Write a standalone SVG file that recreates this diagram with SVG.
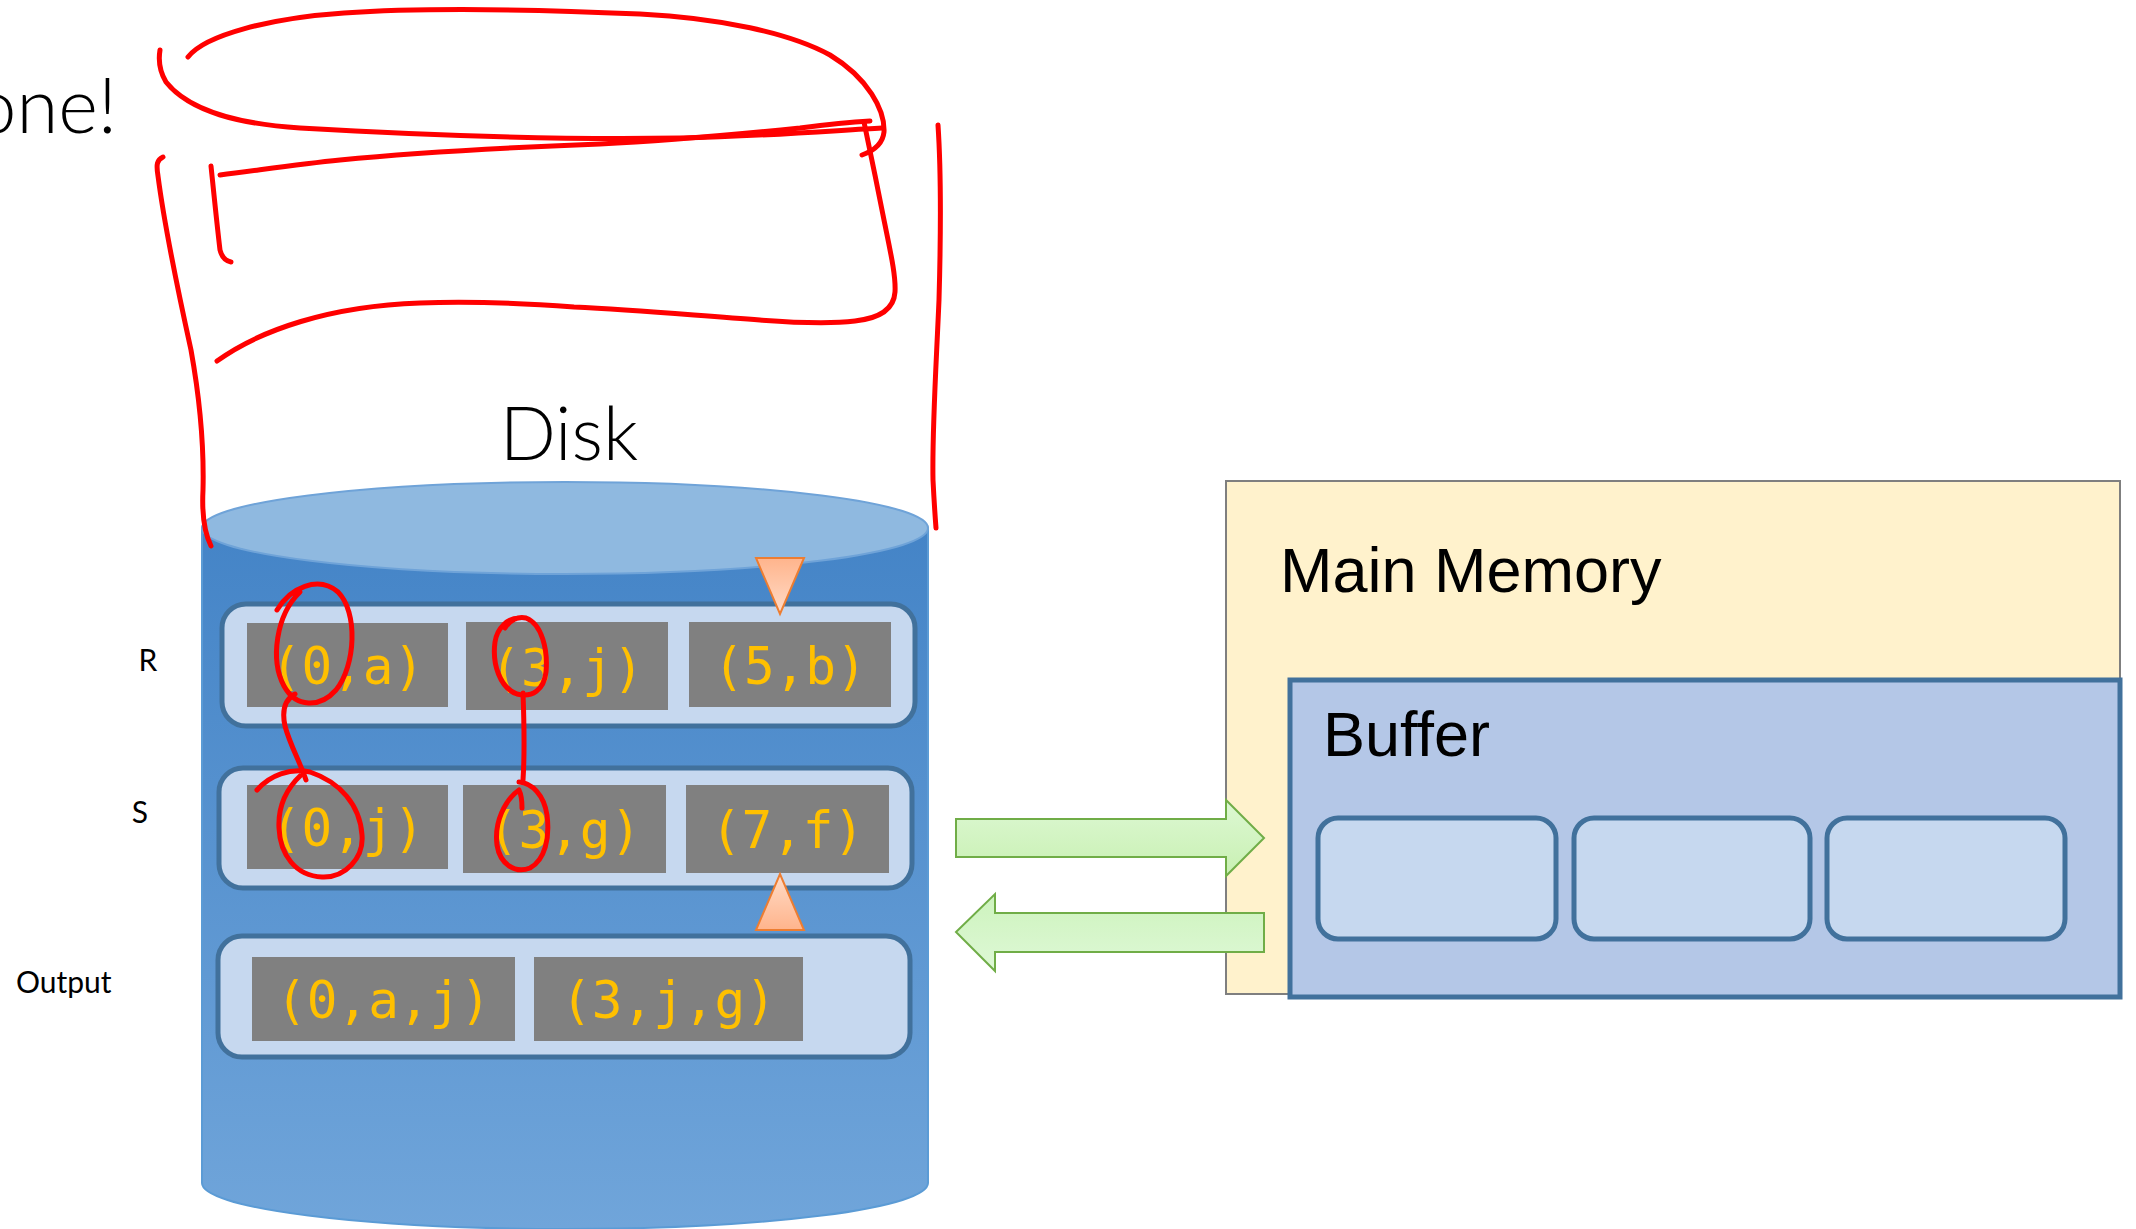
<svg xmlns="http://www.w3.org/2000/svg" width="2136" height="1229" viewBox="0 0 2136 1229">
<defs>
<linearGradient id="cylBody" gradientUnits="userSpaceOnUse" x1="0" y1="528" x2="0" y2="1229">
<stop offset="0" stop-color="#4484c7"/><stop offset="1" stop-color="#70a5da"/>
</linearGradient>
<linearGradient id="tri" x1="0" y1="0" x2="0" y2="1">
<stop offset="0" stop-color="#ffb48c"/><stop offset="1" stop-color="#ffdcc8"/>
</linearGradient>
<linearGradient id="triUp" x1="0" y1="1" x2="0" y2="0">
<stop offset="0" stop-color="#ffb48c"/><stop offset="1" stop-color="#ffdcc8"/>
</linearGradient>
<linearGradient id="grn" x1="0" y1="0" x2="0" y2="1">
<stop offset="0" stop-color="#ddf8d3"/><stop offset="1" stop-color="#c8f0b2"/>
</linearGradient>
<linearGradient id="grn2" x1="0" y1="0" x2="0" y2="1">
<stop offset="0" stop-color="#cdf3bd"/><stop offset="1" stop-color="#def8d6"/>
</linearGradient>
</defs>
<style>
.row{fill:#c6d8ef;stroke:#41719c;stroke-width:5}
.cell{fill:#808080}
.val{font-family:"DejaVu Sans Mono","Liberation Mono",monospace;font-size:51px;fill:#ffc000;text-anchor:middle}
.lbl{font-family:Lato,"Noto Sans",sans-serif;fill:#000}
.big{font-family:"Liberation Sans",Arial,sans-serif;font-size:63px;fill:#000}
.bcell{fill:#c6d8ef;stroke:#41719c;stroke-width:5}
.ink{fill:none;stroke:#ff0000;stroke-width:5;stroke-linecap:round;stroke-linejoin:round}
.tri{stroke:#ed7d31;stroke-width:2}
.arr{stroke:#70ad47;stroke-width:2}
</style>

<text class="lbl" x="-26" y="133" font-size="76" font-weight="300">one!</text>

<g id="disk">
<path d="M202,528 L202,1183 A363,46 0 0 0 928,1183 L928,528 Z" fill="url(#cylBody)" stroke="#5b9bd5" stroke-width="2"/>
<ellipse cx="565" cy="528" rx="363" ry="46" fill="#8fb9e0" stroke="#6fa3d8" stroke-width="2"/>
<text class="lbl" x="569" y="460" font-size="74" font-weight="300" text-anchor="middle">Disk</text>
</g>

<g id="R">
<text class="lbl" x="148" y="671" font-size="30" text-anchor="middle">R</text>
<rect class="row" x="222" y="604" width="693" height="122" rx="24"/>
<rect class="cell" x="247" y="623" width="201" height="84"/>
<rect class="cell" x="466" y="622" width="202" height="88"/>
<rect class="cell" x="689" y="622" width="202" height="85"/>
<text class="val" x="347.5" y="684">(0,a)</text>
<text class="val" x="567" y="686">(3,j)</text>
<text class="val" x="790" y="684">(5,b)</text>
</g>

<g id="S">
<text class="lbl" x="140" y="823" font-size="30" text-anchor="middle">S</text>
<rect class="row" x="219" y="768" width="693" height="120" rx="24"/>
<rect class="cell" x="247" y="785" width="201" height="84"/>
<rect class="cell" x="463" y="785" width="203" height="88"/>
<rect class="cell" x="686" y="785" width="203" height="88"/>
<text class="val" x="347.5" y="846">(0,j)</text>
<text class="val" x="564.5" y="848">(3,g)</text>
<text class="val" x="787.5" y="848">(7,f)</text>
</g>

<g id="Output">
<text class="lbl" x="16" y="993" font-size="30">Output</text>
<rect class="row" x="218" y="936" width="692" height="121" rx="24"/>
<rect class="cell" x="252" y="957" width="263" height="84"/>
<rect class="cell" x="534" y="957" width="269" height="84"/>
<text class="val" x="383.5" y="1018">(0,a,j)</text>
<text class="val" x="668.5" y="1018">(3,j,g)</text>
</g>

<g id="pointers">
<polygon class="tri" points="756,558 804,558 780,614" fill="url(#tri)"/>
<polygon class="tri" points="756,930 804,930 780,874" fill="url(#triUp)"/>
</g>

<g id="main-memory">
<rect x="1226" y="481" width="894" height="513" fill="#fff2cc" stroke="#7f7f7f" stroke-width="2"/>
<text class="big" x="1280" y="592">Main Memory</text>
</g>

<g id="connectors">
<polygon class="arr" points="956,819 1226,819 1226,800 1264,838 1226,876 1226,857 956,857" fill="url(#grn)"/>
<polygon class="arr" points="1264,913 995,913 995,894 956,932 995,971 995,952 1264,952" fill="url(#grn2)"/>
</g>

<g id="buffer">
<rect x="1290" y="680" width="830" height="317" fill="#b4c7e7" stroke="#41719c" stroke-width="5"/>
<text class="big" x="1323" y="756">Buffer</text>
<rect class="bcell" x="1318" y="818" width="238" height="121" rx="20"/>
<rect class="bcell" x="1574" y="818" width="236" height="121" rx="20"/>
<rect class="bcell" x="1827" y="818" width="238" height="121" rx="20"/>
</g>

<g id="annotations">
<path class="ink" d="M188,57 C205,35 270,18 344,13 C430,7 550,10 640,14 C720,18 790,33 830,55 C868,78 885,110 884,132 C883,142 876,150 862,155"/>
<path class="ink" d="M160,50 C158,62 160,72 166,82 C190,112 240,124 300,128 C420,135 560,140 680,138 C770,136 840,130 882,128"/>
<path class="ink" d="M220,175 C260,170 300,164 340,160 C420,152 520,147 600,144 C680,140 760,132 800,128 C830,124 850,122 870,121"/>
<path class="ink" d="M211,166 C214,195 217,225 220,250 C222,258 226,261 231,262"/>
<path class="ink" d="M864,122 C870,150 877,185 883,215 C890,250 896,275 895,292 C894,308 882,318 855,321 C830,324 800,323 760,320 C700,316 640,310 574,307 C520,303 470,301 420,303 C330,306 260,330 217,361"/>
<path class="ink" d="M163,157 C157,160 156,164 158,176 C165,230 180,300 191,350 C200,400 204,450 203,490 C202,510 203,530 211,546"/>
<path class="ink" d="M938,125 C941,170 941,230 939,300 C936,370 932,430 933,480 C934,500 935,515 936,528"/>
<path class="ink" d="M277,610 C290,588 318,575 338,592 C358,612 356,665 336,690 C320,708 296,708 284,686 C270,660 276,615 300,592"/>
<path class="ink" d="M295,694 C284,700 282,712 285,726 C290,745 300,762 306,780"/>
<path class="ink" d="M257,790 C270,775 290,768 310,772 C340,782 360,805 362,835 C364,858 345,878 322,877 C296,876 280,855 279,828 C278,808 285,790 301,775"/>
<path class="ink" d="M505,628 C510,620 518,616 526,618 C542,624 548,650 546,672 C544,690 532,698 517,694 C500,688 492,664 495,642 C497,628 508,618 519,618"/>
<path class="ink" d="M523,693 C524,720 525,750 523,780"/>
<path class="ink" d="M519,782 C532,783 544,795 547,815 C550,838 545,860 530,868 C515,874 500,864 497,845 C494,822 505,800 519,790 C522,796 522,802 522,808"/>
</g>
</svg>
